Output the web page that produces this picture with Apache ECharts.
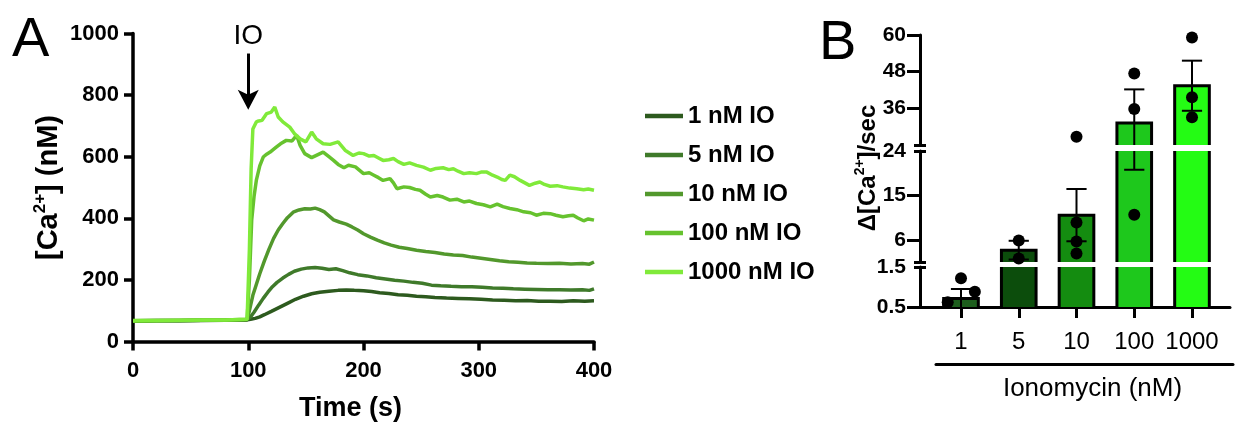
<!DOCTYPE html>
<html><head><meta charset="utf-8">
<script src="https://cdn.jsdelivr.net/npm/echarts@6/dist/echarts.min.js"></script>
<style>html,body{margin:0;padding:0;background:#fff}#c{width:1235px;height:440px}</style>
</head><body><div id="c"></div>
<script>
// ---------- Panel A data: [time (s), [Ca2+] (nM)] ----------
const seriesNames = ['1 nM IO', '5 nM IO', '10 nM IO', '100 nM IO', '1000 nM IO'];
const ca1nM = [[0,66],[20,67],[40,67],[60,68],[80,69],[98,70],[102,72],[106,75],[110,80],[114,87],[120,98],[127,111],[134,124],[141,137],[148,147],[155,155],[162,160],[170,163],[178,166],[185,167],[192,166],[200,165],[207,162],[214,158],[222,156],[230,152],[238,150],[246,147],[254,145],[262,143],[272,141],[282,140],[292,139],[302,137],[312,135],[322,134],[332,132],[342,133],[352,131],[362,131],[372,130],[382,132],[392,131],[400,132]];
const ca5nM = [[0,67],[20,68],[40,68],[60,69],[80,70],[99,71],[102,80],[105,95],[109,118],[113,140],[117,160],[121,178],[125,192],[130,206],[135,218],[140,228],[146,235],[152,239],[158,240],[164,238],[170,234],[176,236],[182,230],[188,223],[195,217],[203,213],[211,207],[219,203],[227,199],[235,196],[243,192],[251,189],[259,183],[267,181],[276,179],[285,178],[294,178],[303,176],[312,174],[321,173],[330,171],[340,170],[350,169],[360,168],[370,168],[380,167],[390,168],[396,166],[400,171]];
const ca10nM = [[0,67],[20,68],[40,68],[60,69],[80,70],[99,71],[101,100],[104,150],[107,185],[110,220],[114,262],[118,300],[122,335],[126,362],[130,383],[134,402],[139,420],[144,427],[149,431],[154,430],[158,433],[162,428],[166,421],[170,408],[174,395],[179,388],[185,381],[190,372],[195,362],[200,350],[206,339],[212,329],[218,320],[224,313],[231,306],[238,302],[246,296],[254,292],[262,289],[270,284],[278,281],[286,279],[294,274],[302,270],[310,266],[318,262],[326,259],[334,257],[342,255],[350,254],[360,253],[370,254],[380,252],[390,253],[396,251],[400,258]];
const ca100nM = [[0,66],[20,67],[40,68],[60,69],[80,70],[99,72],[101,200],[103,394],[105,470],[107,523],[110,570],[113,599],[116,608],[119,615],[124,630],[128,642],[133,653],[138,651],[142,669],[145,637],[149,610],[155,597],[160,606],[165,615],[170,600],[174,588],[178,575],[183,564],[187,572],[193,567],[200,545],[205,548],[209,540],[213,532],[217,523],[223,529],[226,515],[229,496],[235,502],[240,500],[245,494],[249,491],[254,478],[258,469],[264,474],[269,469],[275,459],[281,462],[287,453],[292,456],[298,448],[304,444],[310,437],[316,446],[321,438],[327,432],[333,428],[339,421],[345,418],[350,410],[356,416],[362,415],[367,410],[373,405],[378,408],[382,410],[386,401],[391,392],[395,398],[400,394]];
const ca1000nM = [[0,68],[20,68],[40,69],[60,70],[80,70],[99,72],[101,300],[102.5,560],[104,690],[107,713],[109,716],[112,718],[116,740],[120,745],[123,761],[126,729],[130,713],[136,696],[140,675],[145,658],[150,648],[155,680],[159,658],[165,642],[171,640],[178,648],[184,621],[191,604],[196,612],[200,610],[205,602],[209,604],[213,596],[217,588],[222,590],[226,594],[230,584],[235,575],[240,580],[246,572],[252,566],[258,556],[263,562],[269,564],[274,558],[278,561],[282,553],[287,545],[292,548],[298,545],[302,550],[307,550],[312,540],[316,534],[320,526],[323,523],[327,540],[331,535],[336,523],[340,515],[344,507],[349,514],[353,518],[357,510],[362,504],[368,506],[373,502],[379,498],[385,496],[391,493],[395,495],[400,491]];
const lineData = [ca1nM, ca5nM, ca10nM, ca100nM, ca1000nM];
const ioTime = 100;            // IO addition
const ioArrowRange = [935, 785];

// ---------- Panel B data ----------
const barCats = ['1', '5', '10', '100', '1000'];
const barMeans = [0.71, 3.9, 11.0, 31.2, 43.4];
const barSem = [0.24, 1.9, 5.3, 11.0, 8.2];
const dots1 = [1.22, 0.88, 0.62];
const dots5 = [5.86, 2.2];
const dots10 = [26.7, 9.5, 5.66, 3.2];
const dots100 = [47.4, 35.8, 11.1];
const dots1000 = [59.2, 39.6, 33.1];
const dotGroups = [dots1, dots5, dots10, dots100, dots1000];
const dotJitter = [[0, 0.24, -0.23], [0, 0], [0, 0, 0, 0], [0, 0, 0], [0, 0, 0]];
// axis segments (broken axis)
const segRanges = [[24, 60], [1.5, 24], [0.5, 1.5]];
const segLabels = [[36, 48, 60], [6, 15, 24], [0.5, 1.5]];
const segTicks = [[36, 48, 60], [6, 15], [0.5]];
const segBreaks = [[24], [1.5, 24], [1.5]];

// ---------- styles ----------
const lineColors = ['#2d5a1e', '#3f7a2a', '#52982c', '#66c22e', '#80ea3a'];
const barColors = ['#1d5e1d', '#0c4d0c', '#148c10', '#1ec81c', '#24fc14'];
const FS = '"Liberation Sans", Arial, sans-serif';
const BAR_W = 0.6, CAP_W = 0.35;
const X_MIN = 0.29, X_MAX = 5.658;
const ARROW = 'path://M10,0 L20,20 L10,15 L0,20 Z';

const chart = echarts.init(document.getElementById('c'), null, {renderer: 'canvas'});

const series = [];
lineData.forEach((d, i) => {
  const s = {
    name: seriesNames[i], type: 'line', xAxisIndex: 0, yAxisIndex: 0,
    data: d, symbol: 'none', showSymbol: false, z: 2 + i,
    lineStyle: {width: 3.5, color: lineColors[i]}, itemStyle: {color: lineColors[i]}
  };
  if (i === 0) {
    s.markLine = {
      silent: true, symbol: ['none', ARROW], symbolSize: [21, 20],
      lineStyle: {type: 'solid', color: '#000', width: 3},
      label: {show: true, position: 'start', formatter: 'IO', color: '#000', fontFamily: FS, fontSize: 28, distance: 3},
      data: [[{coord: [ioTime, ioArrowRange[0]]}, {coord: [ioTime, ioArrowRange[1]]}]]
    };
  }
  series.push(s);
});

function barRender(params, api) {
  const x = api.value(0), v = api.value(1);
  const top = api.coord([x, v]);
  const base = api.coord([x, 0]);
  const w = api.size([BAR_W, 0])[0];
  return {type: 'rect', shape: {x: top[0] - w / 2, y: top[1], width: w, height: base[1] - top[1]},
    style: {fill: barColors[params.dataIndex], stroke: '#000', lineWidth: 3}};
}
function errRender(params, api) {
  const x = api.value(0), m = api.value(1), s = api.value(2);
  const hi = api.coord([x, m + s]), lo = api.coord([x, m - s]);
  const c = api.size([CAP_W, 0])[0] / 2;
  const st = {stroke: '#000', lineWidth: 2};
  return {type: 'group', children: [
    {type: 'line', shape: {x1: hi[0], y1: hi[1], x2: lo[0], y2: lo[1]}, style: st},
    {type: 'line', shape: {x1: hi[0] - c, y1: hi[1], x2: hi[0] + c, y2: hi[1]}, style: st},
    {type: 'line', shape: {x1: lo[0] - c, y1: lo[1], x2: lo[0] + c, y2: lo[1]}, style: st}
  ]};
}
const barData = barMeans.map((v, i) => [i + 1, v]);
const errData = barMeans.map((v, i) => [i + 1, v, barSem[i]]);
const dotData = [];
dotGroups.forEach((g, i) => g.forEach((v, j) => dotData.push([i + 1 + dotJitter[i][j], v])));

[1, 2, 3].forEach(g => {
  series.push({type: 'custom', xAxisIndex: g, yAxisIndex: g, clip: true, z: 2, renderItem: barRender, data: barData, silent: true});
  series.push({type: 'custom', xAxisIndex: g, yAxisIndex: g, clip: true, z: 3, renderItem: errRender, data: errData, silent: true});
  series.push({type: 'scatter', xAxisIndex: g, yAxisIndex: g, clip: true, z: 4, symbol: 'circle', symbolSize: 12,
    itemStyle: {color: '#000', opacity: 1}, data: dotData, silent: true});
});

const axisLineBlack = w => ({show: true, lineStyle: {color: '#000', width: w}});

const xAxes = [
  {gridIndex: 0, type: 'value', min: 0, max: 400, interval: 100,
    axisLine: axisLineBlack(3.5), axisTick: {show: true, length: 9, lineStyle: {color: '#000', width: 3.5}},
    axisLabel: {color: '#000', fontFamily: FS, fontWeight: 'bold', fontSize: 22, margin: 18, formatter: v => String(v)},
    splitLine: {show: false},
    name: 'Time (s)', nameLocation: 'middle', nameGap: 54,
    nameTextStyle: {color: '#000', fontFamily: FS, fontWeight: 'bold', fontSize: 27, padding: [0, 26, 0, 0]}},
  {gridIndex: 1, type: 'value', min: X_MIN, max: X_MAX, show: false},
  {gridIndex: 2, type: 'value', min: X_MIN, max: X_MAX, show: false},
  {gridIndex: 3, type: 'value', min: X_MIN, max: X_MAX,
    axisLine: axisLineBlack(3),
    axisTick: {show: true, length: 11, lineStyle: {color: '#000', width: 3}, customValues: [1, 2, 3, 4, 5]},
    axisLabel: {show: true, customValues: [1, 2, 3, 4, 5], formatter: v => barCats[Math.round(v) - 1],
      color: '#000', fontFamily: FS, fontSize: 24, margin: 23},
    splitLine: {show: false}},
  {gridIndex: 4, type: 'value', min: 0, max: 1,
    axisLine: axisLineBlack(3), axisTick: {show: false}, axisLabel: {show: false}, splitLine: {show: false},
    name: 'Ionomycin (nM)', nameLocation: 'middle', nameGap: 12,
    nameTextStyle: {color: '#000', fontFamily: FS, fontSize: 26, padding: [0, 0, 0, 16]}}
];

const yAxes = [
  {gridIndex: 0, type: 'value', min: 0, max: 1000, interval: 200,
    axisLine: axisLineBlack(3.5), axisTick: {show: true, length: 9, lineStyle: {color: '#000', width: 3.5}},
    axisLabel: {color: '#000', fontFamily: FS, fontWeight: 'bold', fontSize: 22, margin: 14, formatter: v => String(v)},
    splitLine: {show: false},
    name: '{b|[Ca}{s|2+}{b|] (nM)}', nameLocation: 'middle', nameGap: 70, nameRotate: 90,
    nameTextStyle: {rich: {
      b: {fontFamily: FS, fontWeight: 'bold', fontSize: 29, lineHeight: 31, color: '#000', verticalAlign: 'bottom'},
      s: {fontFamily: FS, fontWeight: 'bold', fontSize: 17, lineHeight: 17, color: '#000', verticalAlign: 'top'}
    }}}
];
segRanges.forEach((r, k) => {
  yAxes.push({gridIndex: k + 1, type: 'value', position: 'left', min: r[0], max: r[1],
    axisLine: axisLineBlack(3),
    axisTick: {show: true, length: 13, lineStyle: {color: '#000', width: 3}, customValues: segTicks[k]},
    axisLabel: {show: true, customValues: segLabels[k], color: '#000', fontFamily: FS, fontWeight: 'bold', fontSize: 21, margin: 14},
    splitLine: {show: false}});
});
segRanges.forEach((r, k) => {
  yAxes.push({gridIndex: k + 1, type: 'value', position: 'left', offset: -6, min: r[0], max: r[1],
    axisLine: {show: false},
    axisTick: {show: true, length: 12, lineStyle: {color: '#000', width: 3}, customValues: segBreaks[k]},
    axisLabel: {show: false}, splitLine: {show: false}});
});
yAxes.push({gridIndex: 4, type: 'value', min: 0, max: 1, show: false});

const option = {
  animation: false,
  backgroundColor: '#fff',
  grid: [
    {left: 133, top: 33.5, width: 461, height: 308},
    {left: 920, top: 35, width: 310, height: 110},
    {left: 920, top: 151, width: 310, height: 111},
    {left: 920, top: 267, width: 310, height: 40},
    {left: 936, top: 363, width: 297, height: 1}
  ],
  legend: {
    data: seriesNames, orient: 'vertical', left: 640, top: 98,
    icon: 'rect', itemWidth: 38, itemHeight: 4.5, itemGap: 13,
    textStyle: {color: '#000', fontFamily: FS, fontWeight: 'bold', fontSize: 24, lineHeight: 26},
    selectedMode: false
  },
  xAxis: xAxes,
  yAxis: yAxes,
  series: series,
  graphic: [
    {type: 'text', left: 12, top: 13, style: {text: 'A', fontFamily: FS, fontSize: 56, fill: '#000'}},
    {type: 'text', left: 819, top: 16, style: {text: 'B', fontFamily: FS, fontSize: 56, fill: '#000'}},
    {type: 'text', x: 867, y: 168, rotation: Math.PI / 2,
      style: {text: '{b|Δ[Ca}{s|2+}{b|]/sec}', align: 'center', verticalAlign: 'middle',
        rich: {
          b: {fontFamily: FS, fontWeight: 'bold', fontSize: 24, lineHeight: 27, fill: '#000', verticalAlign: 'bottom'},
          s: {fontFamily: FS, fontWeight: 'bold', fontSize: 14, lineHeight: 14, fill: '#000', verticalAlign: 'top'}
        }}}
  ]
};
chart.setOption(option);
</script>
</body></html>
